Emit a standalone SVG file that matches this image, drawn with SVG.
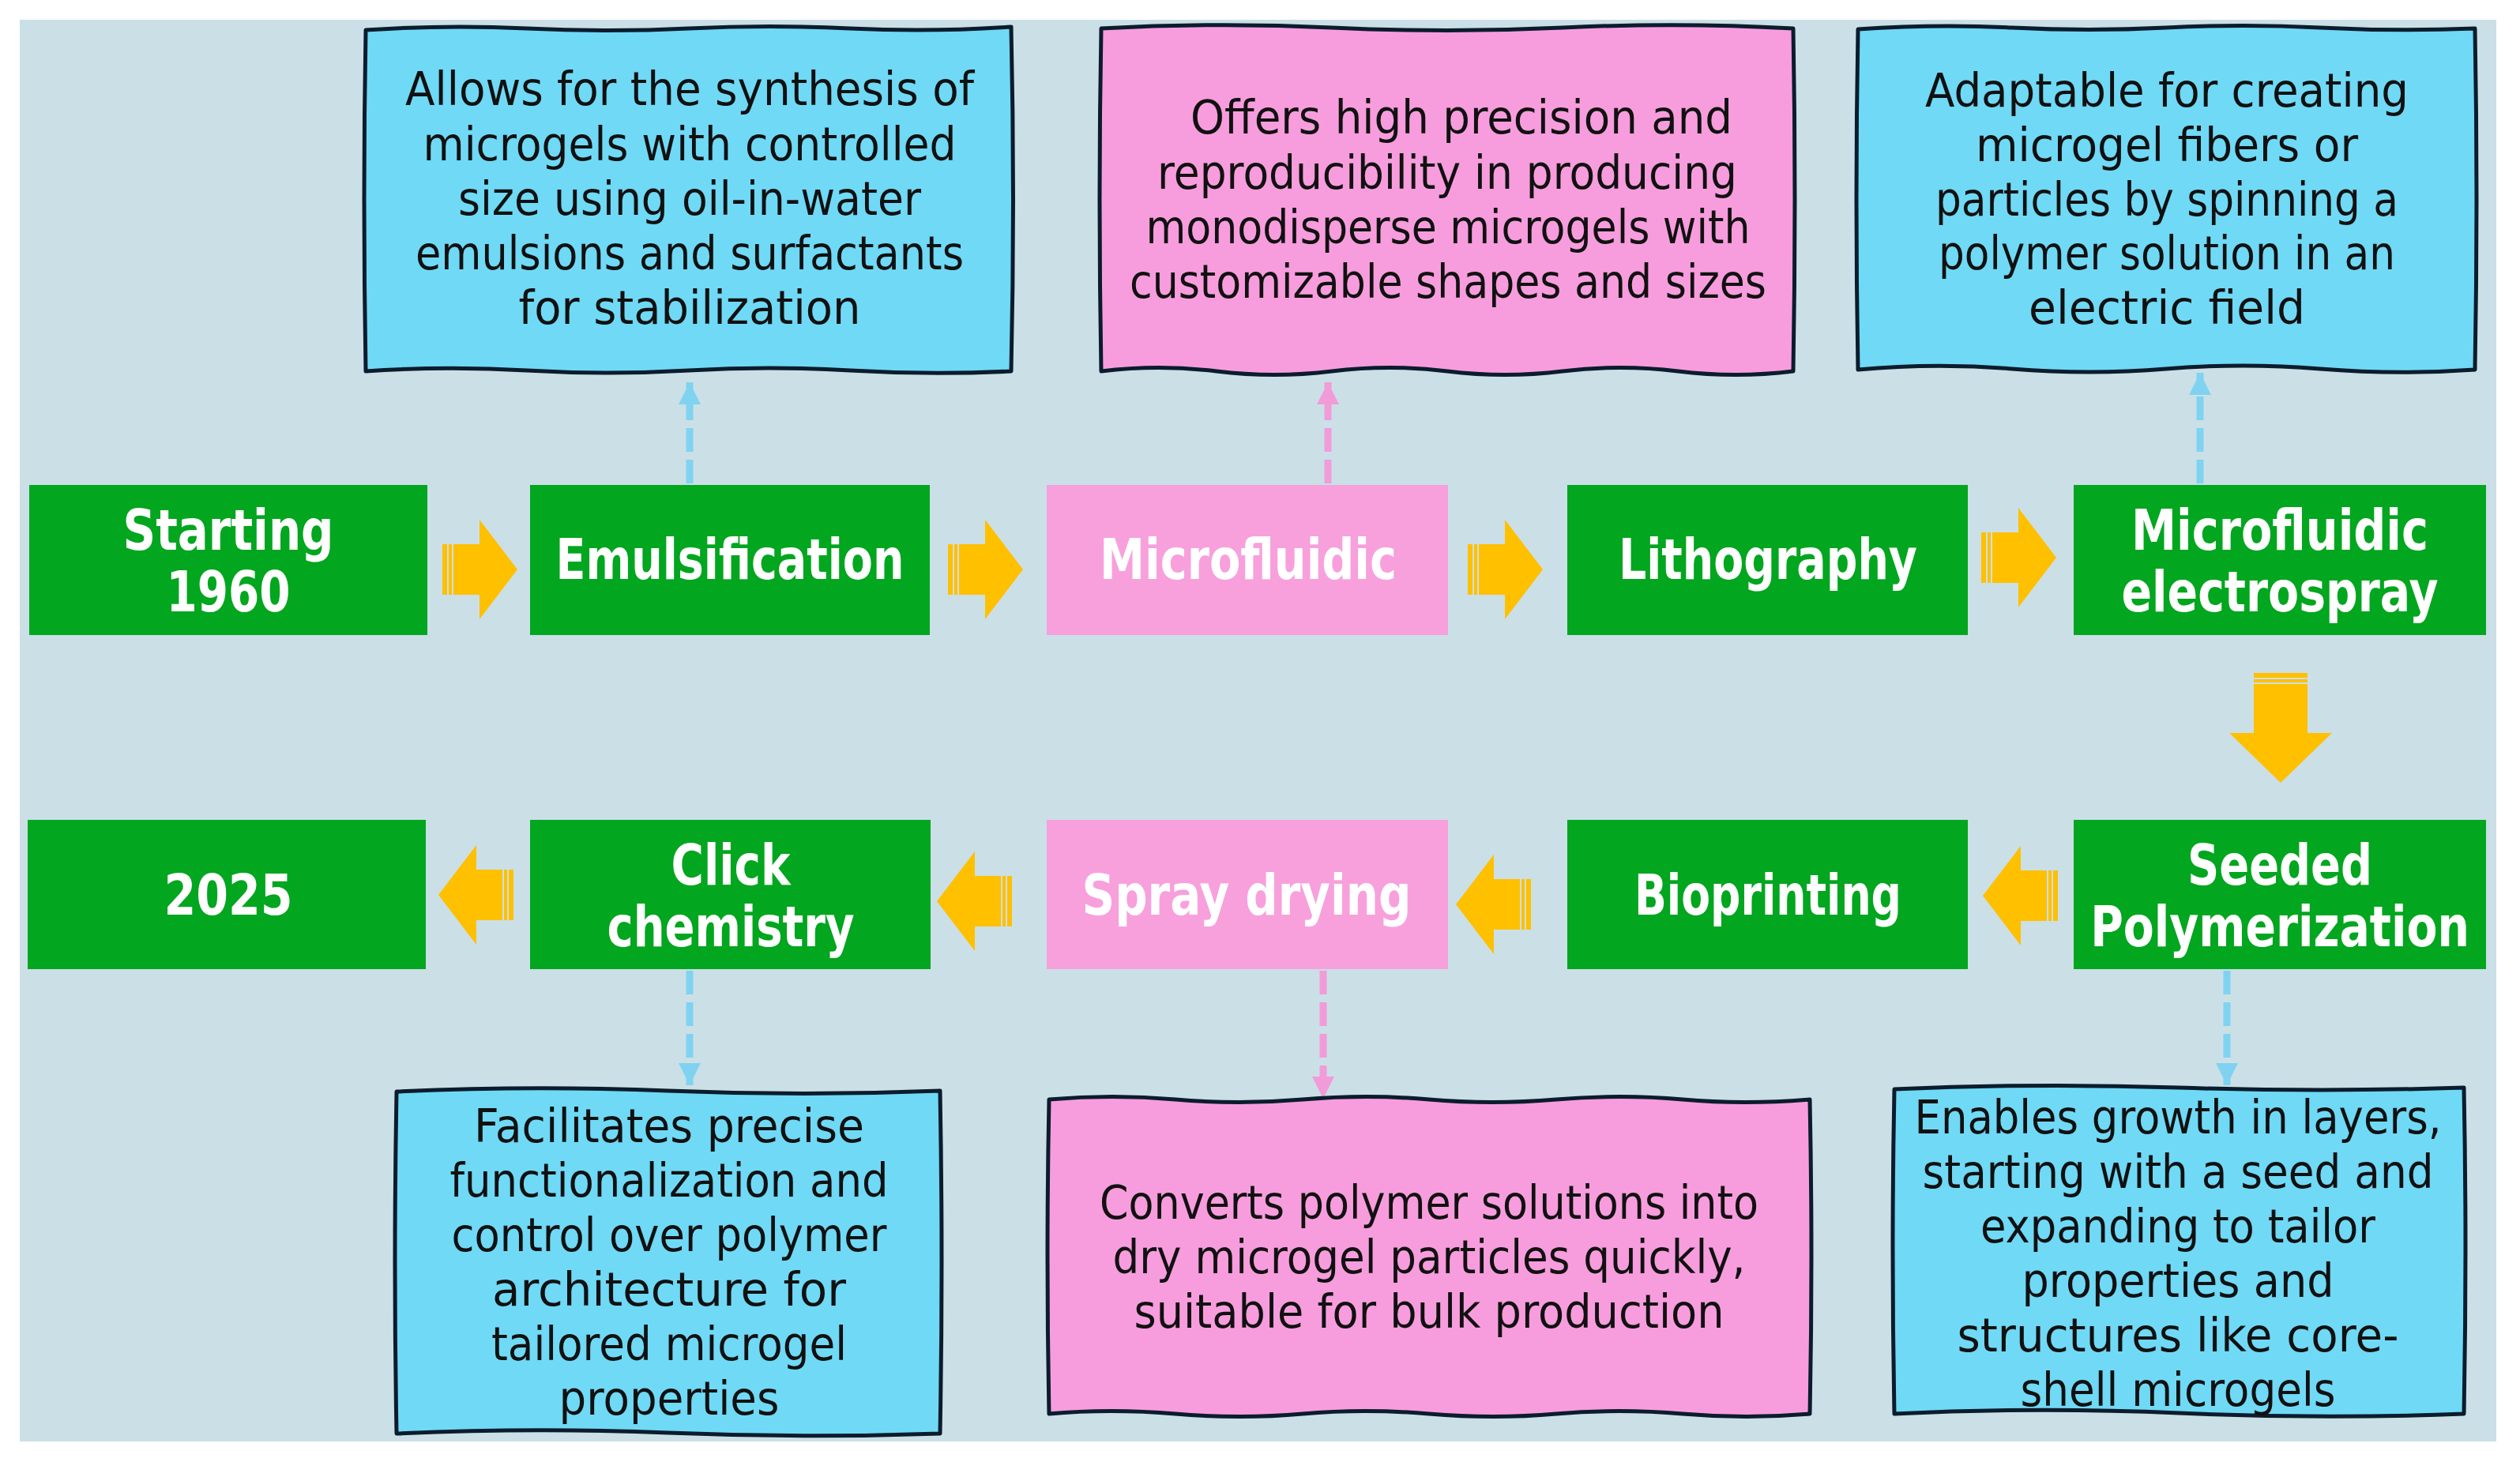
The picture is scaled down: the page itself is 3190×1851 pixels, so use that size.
<svg xmlns="http://www.w3.org/2000/svg" xmlns:xlink="http://www.w3.org/1999/xlink" width="3190" height="1851" viewBox="0 0 3190 1851">
<style>
.green{fill:#03a61f}
.pinkn{fill:#f7a0dc}
.lbl{font-family:"DejaVu Sans","Liberation Sans",sans-serif;font-weight:bold;font-size:71px;fill:#ffffff;text-anchor:middle}
.ctxt{font-family:"DejaVu Sans","Liberation Sans",sans-serif;font-size:58px;fill:#111111;text-anchor:middle}
.cblue{fill:#70d9f6;stroke:#0b1c2c;stroke-width:5;stroke-linejoin:round}
.cpink{fill:#f79ddd;stroke:#0b1c2c;stroke-width:5;stroke-linejoin:round}
.dblue{stroke:#7fd3f1;stroke-width:9;stroke-dasharray:30 10;fill:none;marker-end:url(#mblue)}
.dpink{stroke:#f29bd9;stroke-width:9;stroke-dasharray:30 10;fill:none;marker-end:url(#mpink)}
.arr{fill:#ffc000}
</style>
<defs>
<marker id="mblue" viewBox="0 0 10 10" refX="10" refY="5" markerWidth="28" markerHeight="28" markerUnits="userSpaceOnUse" orient="auto"><path d="M0,0 L10,5 L0,10 Z" fill="#7fd3f1"/></marker>
<marker id="mpink" viewBox="0 0 10 10" refX="10" refY="5" markerWidth="28" markerHeight="28" markerUnits="userSpaceOnUse" orient="auto"><path d="M0,0 L10,5 L0,10 Z" fill="#f29bd9"/></marker>
<g id="rarrow" class="arr">
<rect x="0" y="-32" width="6" height="64"/>
<rect x="8" y="-32" width="4" height="64"/>
<path d="M14,-32 H47 V-63 L95,0 L47,63 V32 H14 Z"/>
</g>
</defs>
<rect x="0" y="0" width="3190" height="1851" fill="#ffffff"/>
<rect x="25" y="25" width="3135" height="1800" fill="#cbdfe7"/>

<g id="block-arrows">
<use xlink:href="#rarrow" transform="translate(560,721)"/>
<use xlink:href="#rarrow" transform="translate(1200,721)"/>
<use xlink:href="#rarrow" transform="translate(1858,721)"/>
<use xlink:href="#rarrow" transform="translate(2508,706)"/>
<use xlink:href="#rarrow" transform="translate(650,1133) scale(-1,1)"/>
<use xlink:href="#rarrow" transform="translate(1281,1141) scale(-1,1)"/>
<use xlink:href="#rarrow" transform="translate(1938,1145) scale(-1,1)"/>
<use xlink:href="#rarrow" transform="translate(2605,1134) scale(-1,1)"/>
<g class="arr">
<rect x="2853" y="852" width="68" height="6"/>
<rect x="2853" y="860" width="68" height="4"/>
<path d="M2853,866 H2921 V928 H2952 L2887,991 L2822,928 H2853 Z"/>
</g>
</g>

<g id="connectors">
<line class="dblue" x1="873" y1="612" x2="873" y2="484"/>
<line class="dpink" x1="1681" y1="612" x2="1681" y2="484"/>
<line class="dblue" x1="2785" y1="612" x2="2785" y2="472"/>
<line class="dblue" x1="873" y1="1229" x2="873" y2="1374"/>
<line class="dpink" x1="1675" y1="1229" x2="1675" y2="1391"/>
<line class="dblue" x1="2819" y1="1229" x2="2819" y2="1374"/>
</g>

<g id="node-start"><rect class="green" x="37" y="614" width="504" height="190"/>
<text class="lbl" x="289" y="696" textLength="267" lengthAdjust="spacingAndGlyphs">Starting</text>
<text class="lbl" x="289" y="774" textLength="157" lengthAdjust="spacingAndGlyphs">1960</text></g>
<g id="node-emulsification"><rect class="green" x="671" y="614" width="506" height="190"/>
<text class="lbl" x="924" y="733" textLength="441" lengthAdjust="spacingAndGlyphs">Emulsification</text></g>
<g id="node-microfluidic"><rect class="pinkn" x="1325" y="614" width="508" height="190"/>
<text class="lbl" x="1580" y="733" textLength="376" lengthAdjust="spacingAndGlyphs">Microfluidic</text></g>
<g id="node-lithography"><rect class="green" x="1984" y="614" width="507" height="190"/>
<text class="lbl" x="2238" y="733" textLength="378" lengthAdjust="spacingAndGlyphs">Lithography</text></g>
<g id="node-electrospray"><rect class="green" x="2625" y="614" width="522" height="190"/>
<text class="lbl" x="2886" y="696" textLength="376" lengthAdjust="spacingAndGlyphs">Microfluidic</text>
<text class="lbl" x="2886" y="774" textLength="401" lengthAdjust="spacingAndGlyphs">electrospray</text></g>

<g id="node-2025"><rect class="green" x="35" y="1038" width="504" height="189"/>
<text class="lbl" x="289" y="1158" textLength="163" lengthAdjust="spacingAndGlyphs">2025</text></g>
<g id="node-click"><rect class="green" x="671" y="1038" width="507" height="189"/>
<text class="lbl" x="925" y="1120" textLength="151" lengthAdjust="spacingAndGlyphs">Click</text>
<text class="lbl" x="925" y="1198" textLength="313" lengthAdjust="spacingAndGlyphs">chemistry</text></g>
<g id="node-spray"><rect class="pinkn" x="1325" y="1038" width="508" height="189"/>
<text class="lbl" x="1578" y="1158" textLength="417" lengthAdjust="spacingAndGlyphs">Spray drying</text></g>
<g id="node-bioprinting"><rect class="green" x="1984" y="1038" width="507" height="189"/>
<text class="lbl" x="2238" y="1158" textLength="338" lengthAdjust="spacingAndGlyphs">Bioprinting</text></g>
<g id="node-seeded"><rect class="green" x="2625" y="1038" width="522" height="189"/>
<text class="lbl" x="2886" y="1120" textLength="234" lengthAdjust="spacingAndGlyphs">Seeded</text>
<text class="lbl" transform="translate(2886,1198) scale(0.8,1)" x="0" y="0">Polymerization</text></g>

<g id="callout-emulsification">
<path class="cblue" d="M463,38 Q565,31 667,36 T872,36 T1076,36 T1280,34 Q1285,250 1280,470 Q1178,475 1076,469 T872,469 T667,469 T463,470 Q459,250 463,38 Z"/>
<text class="ctxt" x="873" y="133" textLength="720" lengthAdjust="spacingAndGlyphs">Allows for the synthesis of</text>
<text class="ctxt" x="873" y="203" textLength="675" lengthAdjust="spacingAndGlyphs">microgels with controlled</text>
<text class="ctxt" x="873" y="272" textLength="586" lengthAdjust="spacingAndGlyphs">size using oil-in-water</text>
<text class="ctxt" x="873" y="341" textLength="694" lengthAdjust="spacingAndGlyphs">emulsions and surfactants</text>
<text class="ctxt" x="873" y="410" textLength="433" lengthAdjust="spacingAndGlyphs">for stabilization</text>
</g>
<g id="callout-microfluidic">
<path class="cpink" d="M1394,36 Q1540,28 1686,35 T1978,35 T2270,36 Q2274,250 2270,470 Q2197,479 2124,470 T1978,470 T1832,470 T1686,470 T1540,470 T1394,470 Q1390,250 1394,36 Z"/>
<text class="ctxt" x="1850" y="169" textLength="686" lengthAdjust="spacingAndGlyphs">Offers high precision and</text>
<text class="ctxt" x="1832" y="239" textLength="734" lengthAdjust="spacingAndGlyphs">reproducibility in producing</text>
<text class="ctxt" x="1833" y="308" textLength="765" lengthAdjust="spacingAndGlyphs">monodisperse microgels with</text>
<text class="ctxt" x="1833" y="377" textLength="806" lengthAdjust="spacingAndGlyphs">customizable shapes and sizes</text>
</g>
<g id="callout-electrospray">
<path class="cblue" d="M2352,37 Q2450,30 2547,35 T2742,35 T2937,35 T3133,36 Q3137,250 3133,468 Q3035,475 2937,467 T2742,467 T2547,467 T2352,468 Q2348,250 2352,37 Z"/>
<text class="ctxt" x="2743" y="135" textLength="612" lengthAdjust="spacingAndGlyphs">Adaptable for creating</text>
<text class="ctxt" x="2743" y="204" textLength="484" lengthAdjust="spacingAndGlyphs">microgel fibers or</text>
<text class="ctxt" x="2743" y="273" textLength="586" lengthAdjust="spacingAndGlyphs">particles by spinning a</text>
<text class="ctxt" x="2743" y="341" textLength="578" lengthAdjust="spacingAndGlyphs">polymer solution in an</text>
<text class="ctxt" x="2743" y="410" textLength="350" lengthAdjust="spacingAndGlyphs">electric field</text>
</g>
<g id="callout-click">
<path class="cblue" d="M502,1382 Q674,1374 846,1381 T1190,1381 Q1194,1600 1190,1815 Q1018,1821 846,1814 T502,1815 Q498,1600 502,1382 Z"/>
<text class="ctxt" x="847" y="1446" textLength="494" lengthAdjust="spacingAndGlyphs">Facilitates precise</text>
<text class="ctxt" x="847" y="1515" textLength="555" lengthAdjust="spacingAndGlyphs">functionalization and</text>
<text class="ctxt" x="847" y="1584" textLength="551" lengthAdjust="spacingAndGlyphs">control over polymer</text>
<text class="ctxt" x="847" y="1653" textLength="448" lengthAdjust="spacingAndGlyphs">architecture for</text>
<text class="ctxt" x="847" y="1722" textLength="450" lengthAdjust="spacingAndGlyphs">tailored microgel</text>
<text class="ctxt" x="847" y="1791" textLength="279" lengthAdjust="spacingAndGlyphs">properties</text>
</g>
<g id="callout-spray">
<path class="cpink" d="M1328,1392 Q1408,1385 1488,1392 T1649,1392 T1809,1392 T1970,1392 T2130,1392 T2291,1392 Q2295,1590 2291,1790 Q2211,1797 2130,1790 T1970,1790 T1809,1790 T1649,1790 T1488,1790 T1328,1790 Q1324,1590 1328,1392 Z"/>
<text class="ctxt" x="1809" y="1543" textLength="834" lengthAdjust="spacingAndGlyphs">Converts polymer solutions into</text>
<text class="ctxt" x="1809" y="1612" textLength="801" lengthAdjust="spacingAndGlyphs">dry microgel particles quickly,</text>
<text class="ctxt" x="1809" y="1681" textLength="747" lengthAdjust="spacingAndGlyphs">suitable for bulk production</text>
</g>
<g id="callout-seeded">
<path class="cblue" d="M2398,1379 Q2578,1371 2758,1377 T3119,1377 Q3123,1580 3119,1790 Q2939,1797 2758,1789 T2398,1790 Q2394,1580 2398,1379 Z"/>
<text class="ctxt" x="2757" y="1435" textLength="667" lengthAdjust="spacingAndGlyphs">Enables growth in layers,</text>
<text class="ctxt" x="2757" y="1504" textLength="647" lengthAdjust="spacingAndGlyphs">starting with a seed and</text>
<text class="ctxt" x="2757" y="1573" textLength="500" lengthAdjust="spacingAndGlyphs">expanding to tailor</text>
<text class="ctxt" x="2757" y="1642" textLength="395" lengthAdjust="spacingAndGlyphs">properties and</text>
<text class="ctxt" x="2757" y="1711" textLength="559" lengthAdjust="spacingAndGlyphs">structures like core-</text>
<text class="ctxt" x="2757" y="1780" textLength="399" lengthAdjust="spacingAndGlyphs">shell microgels</text>
</g>
</svg>
